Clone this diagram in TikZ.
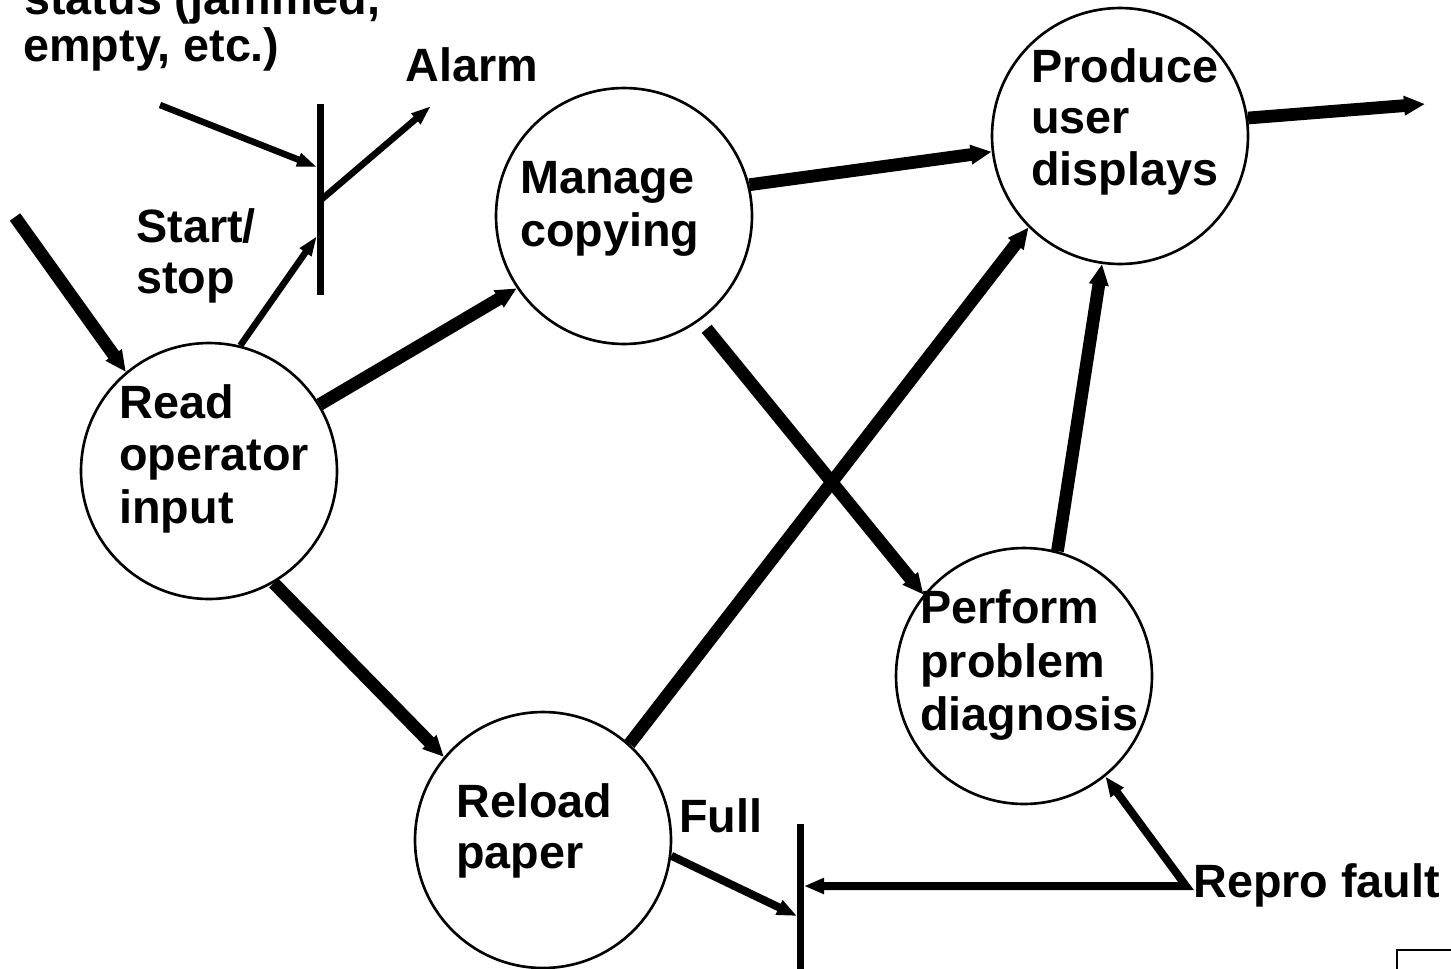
\documentclass[tikz,border=0pt]{standalone}
\usepackage{fontspec}
\setmainfont{Liberation Sans}
\usetikzlibrary{arrows.meta}
\begin{document}
\begin{tikzpicture}[x=0.02cm, y=-0.02cm,
  proc/.style={circle, draw, line width=1.5pt, minimum size=5.12cm, inner sep=0pt},
  lbl/.style={anchor=base west, inner sep=0pt, font=\bfseries\fontsize{26.6pt}{30pt}\selectfont},
  flow/.style={line width=0.255cm, -{Triangle[length=0.42cm, width=0.37cm]}},
  sig/.style={line width=0.13cm, -{Triangle[length=0.4cm, width=0.26cm]}},
  med/.style={line width=0.16cm},
  medtip/.style={-{Triangle[length=0.4cm, width=0.3cm]}},
  barline/.style={line width=0.14cm},
]
\useasboundingbox (0,0) rectangle (1451,968);
\clip (0,0) rectangle (1451,968);

% processes
\node[proc] (read)    at (209,471)  {};
\node[proc] (manage)  at (624,216)  {};
\node[proc] (produce) at (1120,136) {};
\node[proc] (perform) at (1024,676) {};
\node[proc] (reload)  at (543,840)  {};

% process names
\node[lbl] (read1) at (119,418) {Read};
\node[lbl] (read2) at (119,470) {operator};
\node[lbl] (read3) at (119,523) {input};
\node[lbl] (manage1) at (520,193) {Manage};
\node[lbl] (manage2) at (520,246) {copying};
\node[lbl] (produce1) at (1031,82)  {Produce};
\node[lbl] (produce2) at (1031,133) {user};
\node[lbl] (produce3) at (1031,185) {displays};
\node[lbl] (perform1) at (920,623) {Perform};
\node[lbl] (perform2) at (920,677) {problem};
\node[lbl] (perform3) at (920,730) {diagnosis};
\node[lbl] (reload1) at (456,817) {Reload};
\node[lbl] (reload2) at (456,868) {paper};

% signal labels
\node[lbl] (status1) at (24,14) {status (jammed,};
\node[lbl] (status2) at (23,61) {empty, etc.)};
\node[lbl] (alarm) at (405,81) {Alarm};
\node[lbl] (start1) at (136,242) {Start/};
\node[lbl] (start2) at (136,293) {stop};
\node[lbl] (full) at (679,832) {Full};
\node[lbl] (repro) at (1193,897) {Repro fault};

% free ends and points on the bars
\coordinate (inp)   at (15,217);
\coordinate (outp)  at (1425,104);
\coordinate (stat)  at (160,105);
\coordinate (barT)  at (320,104);
\coordinate (barB)  at (320,295);
\coordinate (barS)  at (317,167);
\coordinate (barSS) at (317,236);
\coordinate (barA)  at (322,199);
\coordinate (alarmTip) at (431,106);
\coordinate (fbarT) at (800,824);
\coordinate (fbarB) at (800,980);
\coordinate (fullIn) at (797,916);
\coordinate (rfIn)  at (804,886);
\coordinate (rf)    at (1186,886);

% data flows
\draw[flow] (inp) -- (read.130);
\draw[flow] (read.31) -- (manage.214);
\draw[flow] (manage.14) -- (produce.187);
\draw[flow] (produce.8) -- (outp);
\draw[flow, shorten <=0.21cm] (manage.-54) -- (perform.141);
\draw[flow] (read.-60) -- (reload.140);
\draw[flow] (reload.48) -- (produce.225);
\draw[flow] (perform.75) -- (produce.262);

% control signals
\draw[barline] (barT) -- (barB);
\draw[sig] (stat) -- (barS);
\draw[sig] (read.76) -- (barSS);
\draw[sig] (barA) -- (alarmTip);

\draw[barline] (fbarT) -- (fbarB);
\draw[med, medtip] (reload.-7) -- (fullIn);
\draw[med, {Triangle[length=0.4cm, width=0.3cm]}-{Triangle[length=0.4cm, width=0.3cm]}]
  (perform.-51) -- (rf) -- (rfIn);

% corner frame
\draw[line width=0.05cm] (1397,990) |- (1470,950);
\end{tikzpicture}
\end{document}
